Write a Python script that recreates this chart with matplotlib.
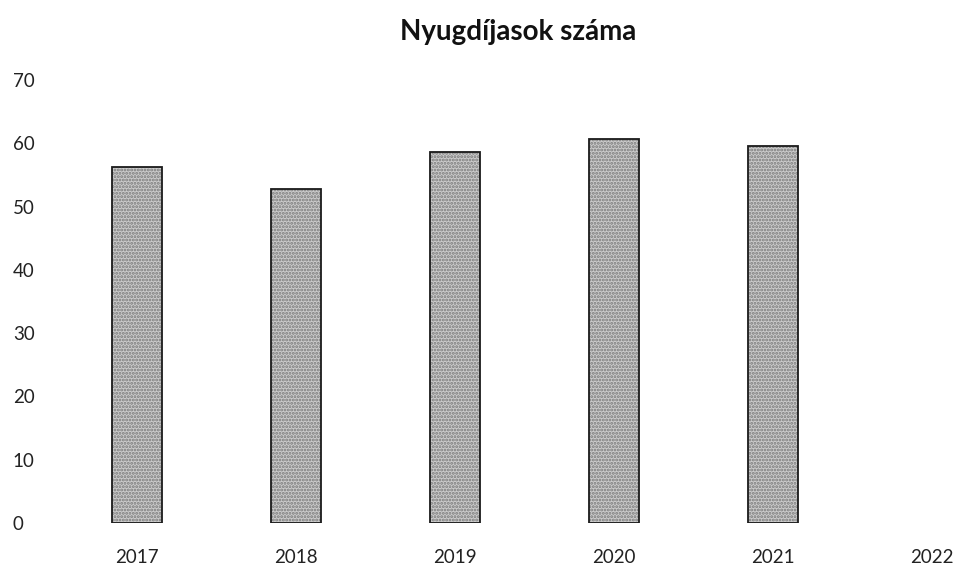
import matplotlib.pyplot as plt
import numpy as np

# data
years = ['2017', '2018', '2019', '2020', '2021', '2022']
pensioners = [56.2, 52.8, 58.7, 60.6, 59.5, np.nan]
yticks = [0, 10, 20, 30, 40, 50, 60, 70]

plt.rcParams['font.family'] = ['Lato', 'DejaVu Sans']
plt.rcParams['hatch.linewidth'] = 1.4

fig = plt.figure(figsize=(9.54, 5.67), dpi=100)
ax = fig.add_axes([60 / 954, (567 - 523) / 567, (954 - 60) / 954, (523 - 80) / 567])

x = np.arange(len(years))
# stippled fill first, then a clean black outline on top
ax.bar(x, pensioners, width=0.31, color='#cbcbcb', edgecolor='#7a7a7a',
       hatch='.....', linewidth=0)
ax.bar(x, pensioners, width=0.31, fill=False, edgecolor='#1a1a1a', linewidth=1.3)

ax.set_xlim((60 - 137) / 159, (954 - 137) / 159)
ax.set_ylim(0, 70)
ax.set_xticks(x)
ax.set_xticklabels(years, fontsize=13.5, color='#222222')
ax.set_yticks(yticks)
ax.set_yticklabels([str(t) for t in yticks], fontsize=13.5, color='#222222', ha='left')
ax.tick_params(axis='y', length=0, pad=34)
ax.tick_params(axis='x', length=0, pad=19)
for spine in ax.spines.values():
    spine.set_visible(False)

fig.text(518 / 954, 1 - 32 / 567, 'Nyugdíjasok száma', fontsize=20, fontweight='bold',
         ha='center', va='center', color='#111111')

fig.savefig('out.png', dpi=100)
